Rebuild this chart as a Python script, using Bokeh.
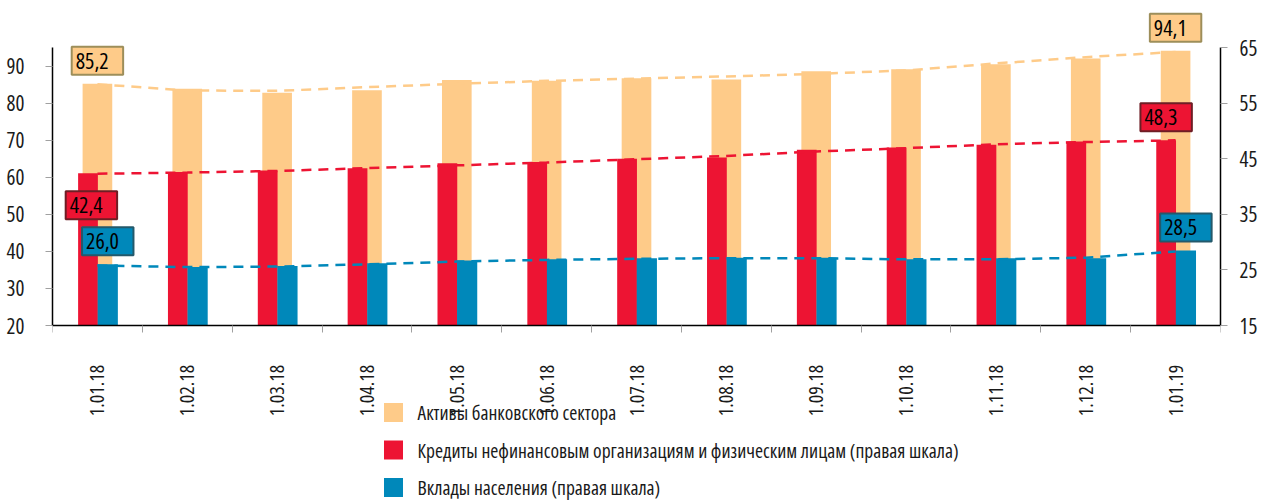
import numpy as np
from bokeh.plotting import figure
from bokeh.models import (Range1d, LinearAxis, FixedTicker, Label,
                          ColumnDataSource, InlineStyleSheet)
from bokeh.core.properties import value
from bokeh.transform import dodge
from bokeh.embed import file_html
from bokeh.resources import INLINE

# ---------------- data ----------------
categories = ["1.01.18", "1.02.18", "1.03.18", "1.04.18", "1.05.18", "1.06.18",
              "1.07.18", "1.08.18", "1.09.18", "1.10.18", "1.11.18", "1.12.18",
              "1.01.19"]
assets = [85.2, 83.9, 82.8, 83.5, 86.2, 86.0, 86.7, 86.4, 88.6, 89.1, 90.5, 92.0, 94.1]
credits = [42.4, 42.6, 42.9, 43.3, 44.2, 44.4, 45.0, 45.2, 46.6, 47.0, 47.5, 48.1, 48.3]
deposits = [26.0, 25.5, 25.7, 26.2, 26.7, 26.9, 27.1, 27.2, 27.2, 26.9, 27.1, 27.1, 28.5]
assets_trend = [85.1, 83.4, 83.3, 84.3, 85.2, 86.0, 86.6, 87.2, 87.9, 88.8, 90.7, 92.4, 93.8]
credits_trend = [42.3, 42.5, 42.8, 43.3, 43.8, 44.3, 44.9, 45.5, 46.3, 46.9, 47.6, 48.0, 48.3]
deposits_trend = [25.8, 25.5, 25.6, 26.0, 26.5, 26.8, 27.0, 27.1, 27.1, 26.9, 26.9, 27.2, 28.3]
left_ticks = [20, 30, 40, 50, 60, 70, 80, 90]
right_ticks = [15, 25, 35, 45, 55, 65]
legend_labels = ["Активы банковского сектора",
                 "Кредиты нефинансовым организациям и физическим лицам  (правая шкала)",
                 "Вклады населения (правая шкала)"]

# ---------------- style ----------------
FONT = "'Open Sans'"
ORANGE = "#FECB89"
RED = "#ED1433"
BLUE = "#0088BA"
TEXT = "#1a1a1a"
TICK = "#A0A0A0"
CSS = InlineStyleSheet(css=":host { font-stretch: 75%; }")

LEFT_LO, LEFT_HI = 20, 95
RIGHT_LO, RIGHT_HI = 15, 65
W, H = 1266, 500
FRAME_L, FRAME_R = 52, 1220          # page x of the two value axes
SCALE_TOP, SCALE_BOT = 47, 325       # page y of the top / bottom of the scales

# legend layout (page pixels)
LEG_SQ_X, LEG_TXT_X = 393, 417
LEG_ROW0, LEG_PITCH, LEG_SQ = 412, 37.5, 19

n = len(categories)
xs = np.arange(n)

lpx = (SCALE_BOT - SCALE_TOP) / (LEFT_HI - LEFT_LO)
rpx = (SCALE_BOT - SCALE_TOP) / (RIGHT_HI - RIGHT_LO)
cpx = (FRAME_R - FRAME_L) / n
y_left = Range1d(LEFT_LO - (H - SCALE_BOT) / lpx, LEFT_HI + SCALE_TOP / lpx)
y_right = Range1d(RIGHT_LO - (H - SCALE_BOT) / rpx, RIGHT_HI + SCALE_TOP / rpx)


def px_to_x(px):
    return -0.5 + (px - FRAME_L) / cpx


def py_to_left(py):
    return LEFT_LO + (SCALE_BOT - py) / lpx


p = figure(width=W, height=H, output_backend="svg", toolbar_location=None,
           title=None, x_range=Range1d(-0.5, n - 0.5), y_range=y_left,
           min_border_left=FRAME_L, min_border_right=W - FRAME_R,
           min_border_top=0, min_border_bottom=0)
p.extra_y_ranges = {"right": y_right}
p.outline_line_color = None
p.xgrid.visible = False
p.ygrid.visible = False
p.stylesheets = [CSS]

src = ColumnDataSource(dict(x=xs, assets=assets, credits=credits, deposits=deposits,
                            at=assets_trend, ct=credits_trend, dt=deposits_trend))

p.vbar(x="x", top="assets", bottom=LEFT_LO, width=0.33, fill_color=ORANGE,
       line_color=None, source=src)
p.vbar(x=dodge("x", -0.105), top="credits", bottom=RIGHT_LO, width=0.22,
       fill_color=RED, line_color=None, y_range_name="right", source=src)
p.vbar(x=dodge("x", 0.115), top="deposits", bottom=RIGHT_LO, width=0.225,
       fill_color=BLUE, line_color=None, y_range_name="right", source=src)

p.line("x", "at", source=src, line_color=ORANGE, line_width=2.5, line_dash="10 7")
p.line("x", "ct", source=src, line_color=RED, line_width=2.5, line_dash="10 7",
       y_range_name="right")
p.line("x", "dt", source=src, line_color=BLUE, line_width=2.5, line_dash="10 7",
       y_range_name="right")

# ---------------- axes ----------------
xa = p.xaxis[0]
xa.fixed_location = LEFT_LO
xa.ticker = FixedTicker(ticks=list(xs), minor_ticks=list(np.arange(-0.5, n, 1.0)))
xa.major_label_overrides = {int(i): c for i, c in zip(xs, categories)}
xa.major_label_orientation = np.pi / 2
xa.major_tick_out = 0
xa.major_tick_in = 0
xa.minor_tick_out = 7
xa.minor_tick_in = 0
xa.minor_tick_line_color = TICK
xa.axis_line_color = "black"
xa.axis_line_width = 1.5
xa.major_label_standoff = 16
xa.major_label_text_font = FONT
xa.major_label_text_font_size = "20px"
xa.major_label_text_color = TEXT

ya = p.yaxis[0]
ra = LinearAxis(y_range_name="right")
p.add_layout(ra, "right")
for ax, ticks, so, bnds in ((ya, left_ticks, 15, (LEFT_LO, LEFT_HI)),
                            (ra, right_ticks, 12, (RIGHT_LO, RIGHT_HI))):
    ax.ticker = FixedTicker(ticks=ticks)
    ax.bounds = bnds
    ax.major_tick_out = 7
    ax.major_tick_in = 0
    ax.minor_tick_out = 0
    ax.minor_tick_in = 0
    ax.major_tick_line_color = TICK
    ax.axis_line_color = "black"
    ax.axis_line_width = 1.5
    ax.major_label_standoff = so
    ax.major_label_text_font = FONT
    ax.major_label_text_font_size = "21px"
    ax.major_label_text_color = TEXT

# ---------------- callouts ----------------
def fmt(v):
    return f"{v:.1f}".replace(".", ",")

callouts = [
    (assets, 0, "default", 0.0, 23, ORANGE, "#9D8E5A"),
    (assets, n - 1, "default", 0.0, 23, ORANGE, "#9D8E5A"),
    (credits, 0, "right", -0.067, -32, RED, "#6E1E25"),
    (credits, n - 1, "right", -0.105, 23, RED, "#6E1E25"),
    (deposits, 0, "right", 0.115, 23, BLUE, "#24596B"),
    (deposits, n - 1, "right", 0.115, 23, BLUE, "#24596B"),
]
for series, i, rng, dx, dy, fill, border in callouts:
    p.add_layout(Label(x=float(xs[i]) + dx, y=series[i], y_range_name=rng,
                       text=fmt(series[i]), y_offset=dy,
                       text_align="center", text_baseline="middle",
                       text_font=FONT, text_font_size="22px", text_color="black",
                       background_fill_color=fill, border_line_color=border,
                       border_line_width=2, padding=(4, 6)))

# ---------------- legend (drawn as glyphs below the axis) ----------------
rows = [py_to_left(LEG_ROW0 + LEG_PITCH * k) for k in range(len(legend_labels))]
leg_src = ColumnDataSource(dict(y=rows, label=legend_labels,
                                color=[ORANGE, RED, BLUE]))
p.rect(x=px_to_x(LEG_SQ_X), y="y", width=LEG_SQ, height=LEG_SQ,
       width_units="screen", height_units="screen", fill_color="color",
       line_color=None, source=leg_src)
p.text(x=px_to_x(LEG_TXT_X), y="y", text="label", source=leg_src,
       text_font=value(FONT), text_font_size="19.5px", text_color=TEXT,
       text_baseline="middle", text_align="left")

open("out.html", "w").write(file_html(p, INLINE))
